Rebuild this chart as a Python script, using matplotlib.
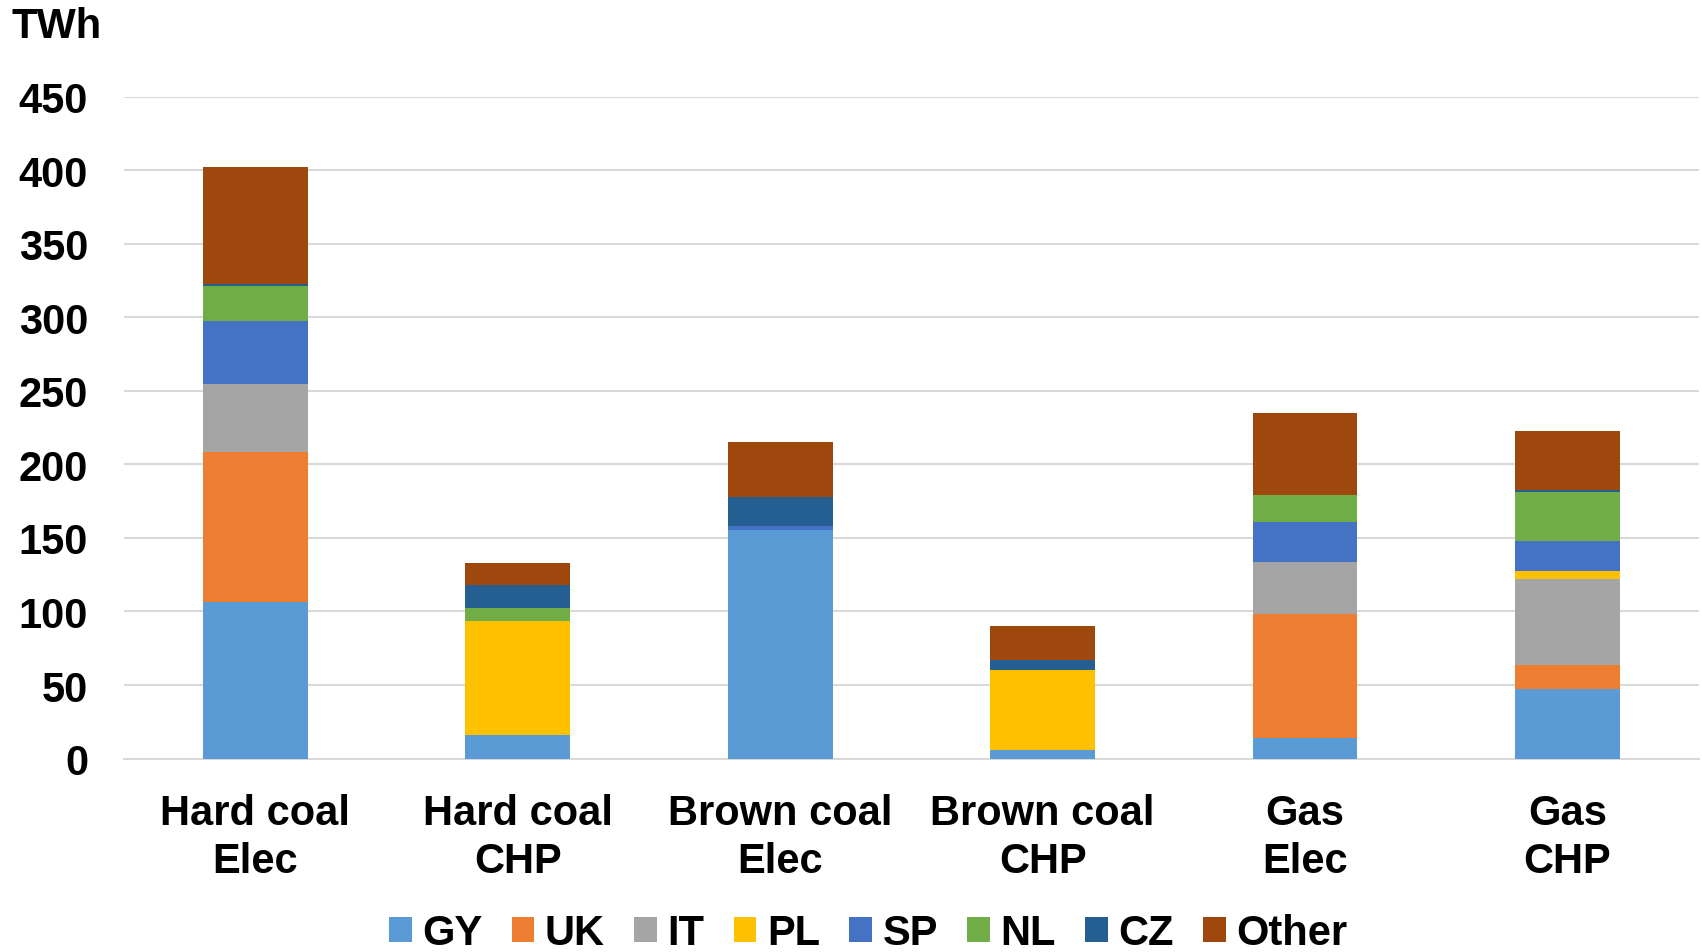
import numpy as np
import matplotlib
matplotlib.use("Agg")
import matplotlib.pyplot as plt

# Generation by technology and country (TWh)
categories = ["Hard coal\nElec", "Hard coal\nCHP", "Brown coal\nElec",
              "Brown coal\nCHP", "Gas\nElec", "Gas\nCHP"]
countries = ["GY", "UK", "IT", "PL", "SP", "NL", "CZ", "Other"]

gy = [106.2, 15.7, 155.6, 6.1, 14.1, 47.6]
uk = [102.3, 0.0, 0.0, 0.0, 84.0, 16.3]
it = [46.4, 0.0, 0.0, 0.0, 35.6, 58.5]
pl = [0.0, 78.1, 0.0, 53.8, 0.0, 5.2]
sp = [42.5, 0.0, 2.4, 0.0, 26.8, 20.2]
nl = [23.9, 8.8, 0.0, 0.0, 19.0, 33.1]
cz = [1.3, 15.2, 19.8, 7.0, 0.0, 1.6]
other = [79.5, 15.3, 37.4, 23.3, 55.1, 40.1]

series = [gy, uk, it, pl, sp, nl, cz, other]
colors = ["#5B9BD5", "#ED7D31", "#A5A5A5", "#FFC000",
          "#4472C4", "#70AD47", "#255E91", "#9E480E"]

plt.rcParams["font.family"] = ["Liberation Sans", "DejaVu Sans"]
plt.rcParams["font.weight"] = "bold"

fig = plt.figure(figsize=(17.02, 9.53), dpi=100)
ax = fig.add_axes([0.073, 0.203, 0.925, 0.6945])

x = np.arange(len(categories))
bottom = np.zeros(len(categories))
for name, vals, col in zip(countries, series, colors):
    vals = np.array(vals)
    ax.bar(x, vals, width=0.4, bottom=bottom, color=col, label=name,
           edgecolor="none", zorder=3)
    bottom += vals

ax.set_xlim(-0.5, len(categories) - 0.5)
ax.set_ylim(0, 450)
ax.set_yticks(np.arange(0, 451, 50))
ax.yaxis.grid(True, color="#D9D9D9", linewidth=1.5, zorder=0)
ax.set_axisbelow(True)

for s in ["top", "right", "left"]:
    ax.spines[s].set_visible(False)
ax.spines["bottom"].set_color("#D9D9D9")
ax.spines["bottom"].set_linewidth(1.5)

ax.set_xticks(x)
ax.set_xticklabels(categories, fontsize=30, fontweight="bold", linespacing=1.26)
ax.tick_params(axis="x", length=0, pad=25)
ax.tick_params(axis="y", length=0, pad=26, labelsize=30)
for lbl in ax.get_yticklabels():
    lbl.set_fontweight("bold")

fig.text(0.007, 0.972, "TWh", fontsize=30, fontweight="bold", va="center", ha="left")

fig.legend(loc="center", bbox_to_anchor=(0.51, 0.02), ncol=8, frameon=False,
           handlelength=0.55, handleheight=0.55, handletextpad=0.25,
           columnspacing=0.7, prop={"weight": "bold", "size": 30})

fig.savefig("out.png", dpi=100)
